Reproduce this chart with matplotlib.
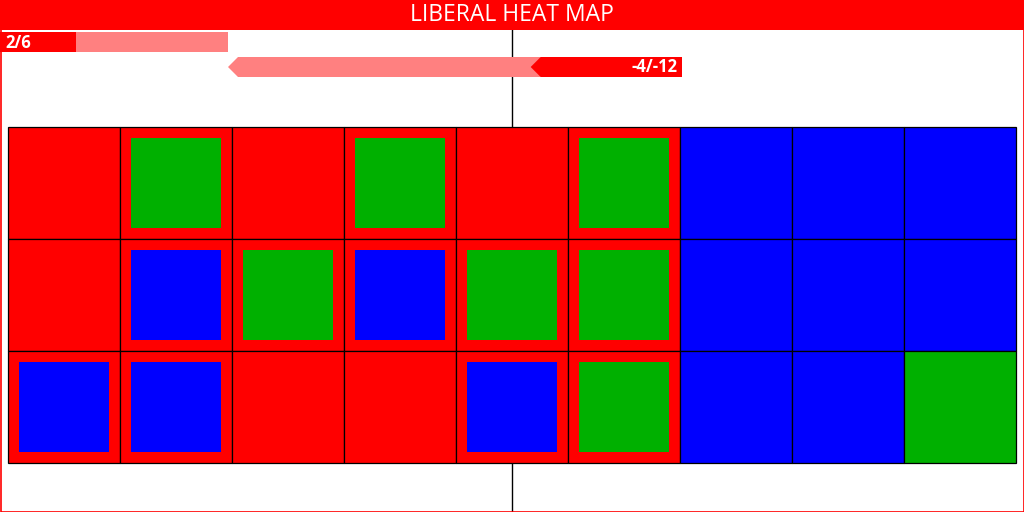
import numpy as np
import matplotlib.pyplot as plt
from matplotlib.patches import Rectangle, Polygon

plt.rcParams['font.family'] = ['Open Sans', 'DejaVu Sans']

title = 'LIBERAL HEAT MAP'
# seat counts shown in the two bars
won, total = 2, 6
change, change_total = -4, -12

# cell colours: R = red, B = blue, G = green, '' = no inner square
outer = [['R', 'R', 'R', 'R', 'R', 'R', 'B', 'B', 'B'],
         ['R', 'R', 'R', 'R', 'R', 'R', 'B', 'B', 'B'],
         ['R', 'R', 'R', 'R', 'R', 'R', 'B', 'B', 'G']]
inner = [['', 'G', '', 'G', '', 'G', '', '', ''],
         ['', 'B', 'G', 'B', 'G', 'G', '', '', ''],
         ['B', 'B', '', '', 'B', 'G', '', '', '']]

colors = {'R': '#ff0000', 'B': '#0000ff', 'G': '#00b000'}
red, pink = '#ff0000', '#ff8080'

W, H = 1024, 512
fig = plt.figure(figsize=(W / 100, H / 100), dpi=100)
ax = fig.add_axes([0, 0, 1, 1])
ax.set_xlim(0, W)
ax.set_ylim(H, 0)
ax.axis('off')

# centre line sits behind everything
ax.plot([512, 512], [30, H], color='black', lw=1, zorder=0)

# title bar and frame
ax.add_patch(Rectangle((0, 0), W, 30, color=red, lw=0))
ax.text(W / 2, 15, title, color='white', fontsize=16.5, ha='center', va='center')
ax.add_patch(Rectangle((0.5, 0.5), W - 1, H - 1, fill=False, ec=red, lw=1.2))

# top bar: seats won
bar_w = 228
ax.add_patch(Rectangle((0, 32), bar_w, 20, color=pink, lw=0))
ax.add_patch(Rectangle((0, 32), bar_w * won / total, 20, color=red, lw=0))
ax.text(5, 42.5, f'{won}/{total}', color='white', fontsize=12, weight='bold',
        ha='left', va='center')

# second bar: change, arrow pointing left
right, left = 682, 228
y0, y1 = 57, 77
ym = (y0 + y1) / 2
tip = 10
split = right - (right - left) * change / change_total
ax.add_patch(Polygon([(left, ym), (left + tip, y0), (split + tip, y0),
                      (split + tip, y1), (left + tip, y1)], color=pink, lw=0))
ax.add_patch(Polygon([(split, ym), (split + tip, y0), (right, y0),
                      (right, y1), (split + tip, y1)], color=red, lw=0))
ax.text(right - 5, ym + 0.5, f'{change}/{change_total}', color='white',
        fontsize=12, weight='bold', ha='right', va='center')

# grid
gx, gy, cs, inset = 8, 127, 112, 11
for r, row in enumerate(outer):
    for c, col in enumerate(row):
        x, y = gx + c * cs, gy + r * cs
        ax.add_patch(Rectangle((x, y), cs, cs, fc=colors[col], ec='black', lw=0.9))
        if inner[r][c]:
            ax.add_patch(Rectangle((x + inset, y + inset), cs - 2 * inset,
                                   cs - 2 * inset, fc=colors[inner[r][c]], lw=0))

fig.savefig('out.png', dpi=100)
